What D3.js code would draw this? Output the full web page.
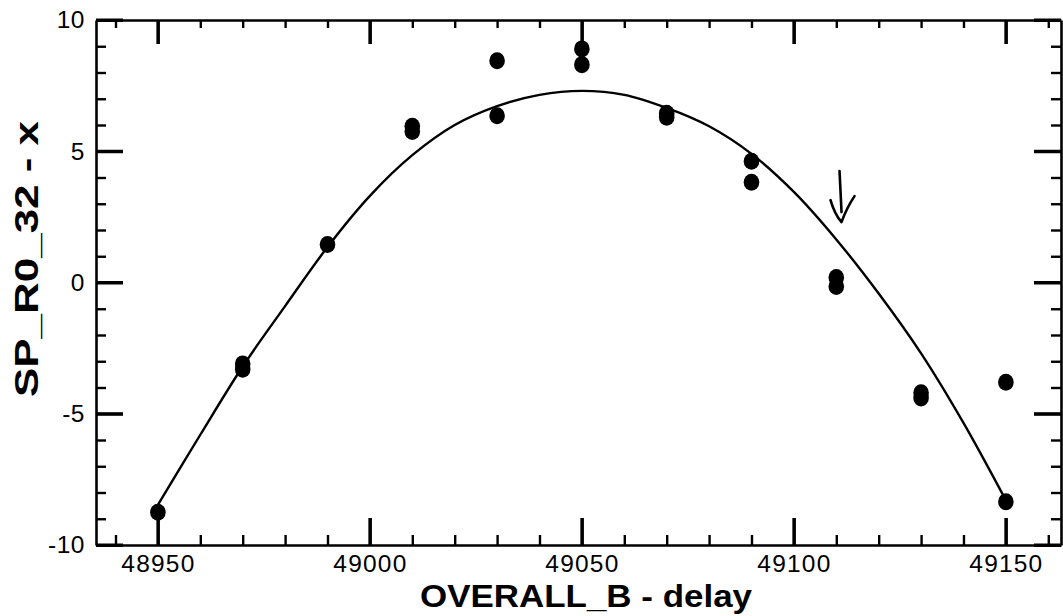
<!DOCTYPE html>
<html>
<head>
<meta charset="utf-8">
<script src="https://cdn.jsdelivr.net/npm/d3@7"></script>
<style>
  html, body { margin: 0; padding: 0; background: #fff; }
  svg { display: block; }
  text { font-family: "Liberation Sans", Arial, Helvetica, sans-serif; fill: #000; }
</style>
</head>
<body>
<svg id="chart" width="1063" height="616"></svg>
<script>
// ---- data ----
const xMajorTicks = [48950, 49000, 49050, 49100, 49150];
const yMajorTicks = [-10, -5, 0, 5, 10];
const xTickLabels = ["48950", "49000", "49050", "49100", "49150"];
const yTickLabels = ["-10", "-5", "0", "5", "10"];

// measured points (delay, SP_R0_32 - x)
const pointX = [48950, 48970, 48970, 48990, 49010, 49010, 49030, 49030, 49050, 49050,
                49070, 49070, 49090, 49090, 49110, 49110, 49130, 49130, 49150, 49150];
const pointY = [-8.75, -3.1, -3.3, 1.45, 5.95, 5.75, 8.45, 6.35, 8.9, 8.3,
                6.45, 6.3, 4.62, 3.82, 0.19, -0.15, -4.2, -4.4, -3.8, -8.35];

// fitted curve
const curveX = [48950, 48960, 48970, 48980, 48990, 49000, 49010, 49020, 49030, 49040, 49050,
                49060, 49070, 49080, 49090, 49100, 49110, 49120, 49130, 49140, 49150];
const curveY = [-8.47, -5.8, -3.2, -0.9, 1.35, 3.3, 4.85, 6.0, 6.72, 7.15, 7.3,
                7.15, 6.65, 5.95, 4.9, 3.45, 1.64, -0.42, -2.7, -5.35, -8.3];

// hand-drawn arrow annotation (data coordinates)
const arrowX = 49111;
const arrowTop = 4.25;
const arrowTip = 2.3;

const xTitle = "OVERALL_B - delay";
const yTitle = "SP_R0_32 - x";

// ---- layout ----
const svg = d3.select("#chart");
const mLeft = 96, mRight = 1061, mTop = 20, mBottom = 545;

const x = d3.scaleLinear().domain([48935.4, 49163]).range([mLeft, mRight]);
const y = d3.scaleLinear().domain([-10, 10]).range([mBottom, mTop]);

const xMinor = d3.range(48940, 49161, 10).filter(v => v % 50 !== 0);
const yMinor = d3.range(-10, 10.01, 1).filter(v => v % 5 !== 0);

const MAJ = 27, MIN = 10;

function drawAxis(axisFn, scale, transform, majorVals, minorVals, majLen, minLen, labels, pad) {
  const gMin = svg.append("g").attr("transform", transform);
  gMin.call(axisFn(scale).tickValues(minorVals).tickSizeInner(-minLen).tickSizeOuter(0).tickFormat(""));
  gMin.select(".domain").remove();
  gMin.selectAll(".tick line").attr("stroke", "#000").attr("stroke-width", 2.4);

  const gMaj = svg.append("g").attr("transform", transform);
  const a = axisFn(scale).tickValues(majorVals).tickSizeInner(-majLen).tickSizeOuter(0)
    .tickPadding(pad || 0).tickFormat(labels ? ((d, i) => labels[i]) : "");
  gMaj.call(a);
  gMaj.select(".domain").attr("stroke", "#000").attr("stroke-width", 2.6);
  gMaj.selectAll(".tick line").attr("stroke", "#000").attr("stroke-width", 3);
  return gMaj;
}

const gb = drawAxis(d3.axisBottom, x, `translate(0,${mBottom})`, xMajorTicks, xMinor, MAJ, MIN, xTickLabels, 10);
gb.selectAll(".tick text").attr("font-size", 24.5).attr("letter-spacing", 1.2);
drawAxis(d3.axisTop, x, `translate(0,${mTop})`, xMajorTicks, xMinor, 24, 8, null, 0);
const gl = drawAxis(d3.axisLeft, y, `translate(${mLeft},0)`, yMajorTicks, yMinor, MAJ, MIN, yTickLabels, 11);
gl.selectAll(".tick text").attr("font-size", 24.5).attr("letter-spacing", 0.5);
drawAxis(d3.axisRight, y, `translate(${mRight},0)`, yMajorTicks, yMinor, MAJ, MIN, null, 0);

// explicit major tick strokes (reinforce the inward major ticks)
const majG = svg.append("g").attr("stroke", "#000").attr("stroke-width", 3);
majG.selectAll("line.xb").data(xMajorTicks).join("line").attr("class", "xb")
  .attr("x1", d => x(d)).attr("x2", d => x(d)).attr("y1", mBottom).attr("y2", mBottom - MAJ);
majG.selectAll("line.xt").data(xMajorTicks).join("line").attr("class", "xt")
  .attr("x1", d => x(d)).attr("x2", d => x(d)).attr("y1", mTop).attr("y2", mTop + 24);
majG.selectAll("line.yl").data(yMajorTicks).join("line").attr("class", "yl")
  .attr("y1", d => y(d)).attr("y2", d => y(d)).attr("x1", mLeft).attr("x2", mLeft + MAJ);
majG.selectAll("line.yr").data(yMajorTicks).join("line").attr("class", "yr")
  .attr("y1", d => y(d)).attr("y2", d => y(d)).attr("x1", mRight).attr("x2", mRight - MAJ);

// fitted curve
const curve = curveX.map((v, i) => [v, curveY[i]]);
svg.append("path")
  .datum(curve)
  .attr("fill", "none")
  .attr("stroke", "#000")
  .attr("stroke-width", 2.4)
  .attr("stroke-linejoin", "round")
  .attr("d", d3.line().x(d => x(d[0])).y(d => y(d[1])).curve(d3.curveCatmullRom));

// points
const pts = pointX.map((v, i) => [v, pointY[i]]);
svg.append("g").selectAll("ellipse").data(pts).join("ellipse")
  .attr("cx", d => x(d[0]))
  .attr("cy", d => y(d[1]))
  .attr("rx", 7.8)
  .attr("ry", 8.5)
  .attr("fill", "#000");

// arrow annotation
const ax = x(arrowX), ay0 = y(arrowTop), ay1 = y(arrowTip);
const arrow = d3.path();
arrow.moveTo(ax - 1, ay0);
arrow.lineTo(ax + 1, ay1 - 10);
arrow.moveTo(ax - 10, ay1 - 22);
arrow.quadraticCurveTo(ax - 6, ay1 - 8, ax + 1, ay1);
arrow.quadraticCurveTo(ax + 6, ay1 - 14, ax + 14, ay1 - 26);
svg.append("path").attr("d", arrow.toString())
  .attr("fill", "none").attr("stroke", "#000").attr("stroke-width", 2.6)
  .attr("stroke-linecap", "round").attr("stroke-linejoin", "round");

// titles
svg.append("text")
  .attr("x", 586).attr("y", 607)
  .attr("text-anchor", "middle")
  .attr("font-size", 32).attr("font-weight", "bold")
  .attr("textLength", 332).attr("lengthAdjust", "spacingAndGlyphs")
  .text(xTitle);

svg.append("text")
  .attr("transform", "translate(38,259) rotate(-90)")
  .attr("text-anchor", "middle")
  .attr("font-size", 33).attr("font-weight", "bold")
  .attr("textLength", 276).attr("lengthAdjust", "spacingAndGlyphs")
  .text(yTitle);
</script>
</body>
</html>
